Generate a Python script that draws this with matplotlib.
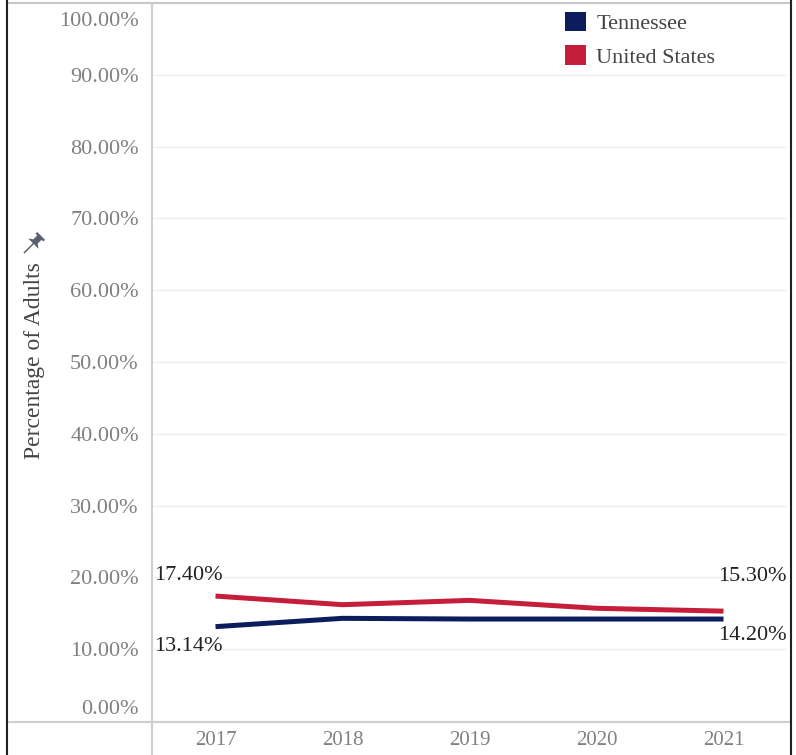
import matplotlib
matplotlib.use("Agg")
import matplotlib.pyplot as plt
from matplotlib.lines import Line2D
from matplotlib.patches import Patch
from matplotlib.path import Path
import matplotlib.transforms as mtransforms

# data
years = ["2017", "2018", "2019", "2020", "2021"]
tennessee = [13.14, 14.3, 14.2, 14.2, 14.20]
united_states = [17.40, 16.2, 16.8, 15.7, 15.30]
y_ticks = [0, 10, 20, 30, 40, 50, 60, 70, 80, 90, 100]

TN_COLOR = "#0b1d5c"
US_COLOR = "#c41e3a"
TICK_COLOR = "#808080"
LINE_GRAY = "#cfcfcf"

plt.rcParams["font.family"] = ["Liberation Serif", "DejaVu Serif"]

W, H = 796, 755
fig = plt.figure(figsize=(W / 100, H / 100), dpi=100)
fig.patch.set_facecolor("white")

# plot area: x from 152 to 787 px, y from 721 (0%) to 3 (100%)
ax = fig.add_axes([152 / W, (H - 721) / H, (787 - 152) / W, 718 / H])

xs = range(len(years))
ax.plot(xs, tennessee, color=TN_COLOR, lw=3.6, solid_capstyle="butt", zorder=3)
ax.plot(xs, united_states, color=US_COLOR, lw=3.6, solid_capstyle="butt", zorder=3)

ax.set_xlim(-0.5, len(years) - 0.5)
ax.set_ylim(0, 100)
ax.set_xticks(list(xs))
ax.set_xticklabels(years, fontsize=15)
ax.set_yticks(y_ticks)
ax.set_yticklabels([f"{v:.2f}%" for v in y_ticks], fontsize=16)
ax.tick_params(axis="both", length=0, colors=TICK_COLOR)
ax.tick_params(axis="y", pad=9.5)
ax.tick_params(axis="x", pad=7)
ax.grid(axis="y", color="#eeeeee", lw=1)
ax.set_axisbelow(True)
for s in ax.spines.values():
    s.set_visible(False)

# tableau nudges the edge labels inward
labels = ax.get_yticklabels()
labels[0].set_transform(labels[0].get_transform() + mtransforms.ScaledTranslation(0, 14 / 100, fig.dpi_scale_trans))
labels[-1].set_transform(labels[-1].get_transform() + mtransforms.ScaledTranslation(0, -16 / 100, fig.dpi_scale_trans))

# end labels
ann = dict(textcoords="offset pixels", fontsize=16, color="#222222")
ax.annotate(f"{united_states[0]:.2f}%", (0, united_states[0]), xytext=(7, 11), ha="right", va="bottom", **ann)
ax.annotate(f"{tennessee[0]:.2f}%", (0, tennessee[0]), xytext=(7, -10), ha="right", va="top", **ann)
ax.annotate(f"{united_states[-1]:.2f}%", (4, united_states[-1]), xytext=(-5, 25), ha="left", va="bottom", **ann)
ax.annotate(f"{tennessee[-1]:.2f}%", (4, tennessee[-1]), xytext=(-5, -7), ha="left", va="top", **ann)

# legend
handles = [Patch(facecolor=TN_COLOR, edgecolor="none"), Patch(facecolor=US_COLOR, edgecolor="none")]
leg = ax.legend(handles, ["Tennessee", "United States"], loc="upper left",
                bbox_to_anchor=((565 - 152) / 635, (721 - 12) / 718), frameon=False,
                fontsize=16, handlelength=0.95, handleheight=0.95, handletextpad=0.45,
                labelspacing=0.5, borderpad=0, borderaxespad=0)
for t in leg.get_texts():
    t.set_color("#444444")

# axis title with the pin
fig.text(35 / W, 1 - 361 / H, "Percentage of Adults", rotation=90, ha="center", va="center",
         fontsize=17, color="#444444")
pin = Path([(-0.45, 1.0), (0.45, 1.0), (0.45, 0.8), (0.25, 0.8), (0.25, 0.35), (0.6, 0.1),
            (0.06, 0.1), (0.06, -1.0), (-0.06, -1.0), (-0.06, 0.1), (-0.6, 0.1), (-0.25, 0.35),
            (-0.25, 0.8), (-0.45, 0.8), (-0.45, 1.0)])
pin = pin.transformed(mtransforms.Affine2D().rotate_deg(-45))
fig.add_artist(Line2D([32 / W], [1 - 244 / H], marker=pin, markersize=18, color="#5a6070",
                      markeredgewidth=0, linestyle="none", transform=fig.transFigure))

# frame lines around the view
def fline(x0, y0, x1, y1, **kw):
    fig.add_artist(Line2D([x0 / W, x1 / W], [1 - y0 / H, 1 - y1 / H], transform=fig.transFigure, **kw))

fline(7, 3, 791, 3, color="#c8c8c8", lw=1.5)
fline(7, 722, 791, 722, color=LINE_GRAY, lw=1.5)
fline(152, 3, 152, H, color=LINE_GRAY, lw=1.5)
fline(7, 0, 7, H, color="#222222", lw=1.5)
fline(791, 0, 791, H, color="#222222", lw=1.5)

fig.savefig("out.png", dpi=100, facecolor="white")
